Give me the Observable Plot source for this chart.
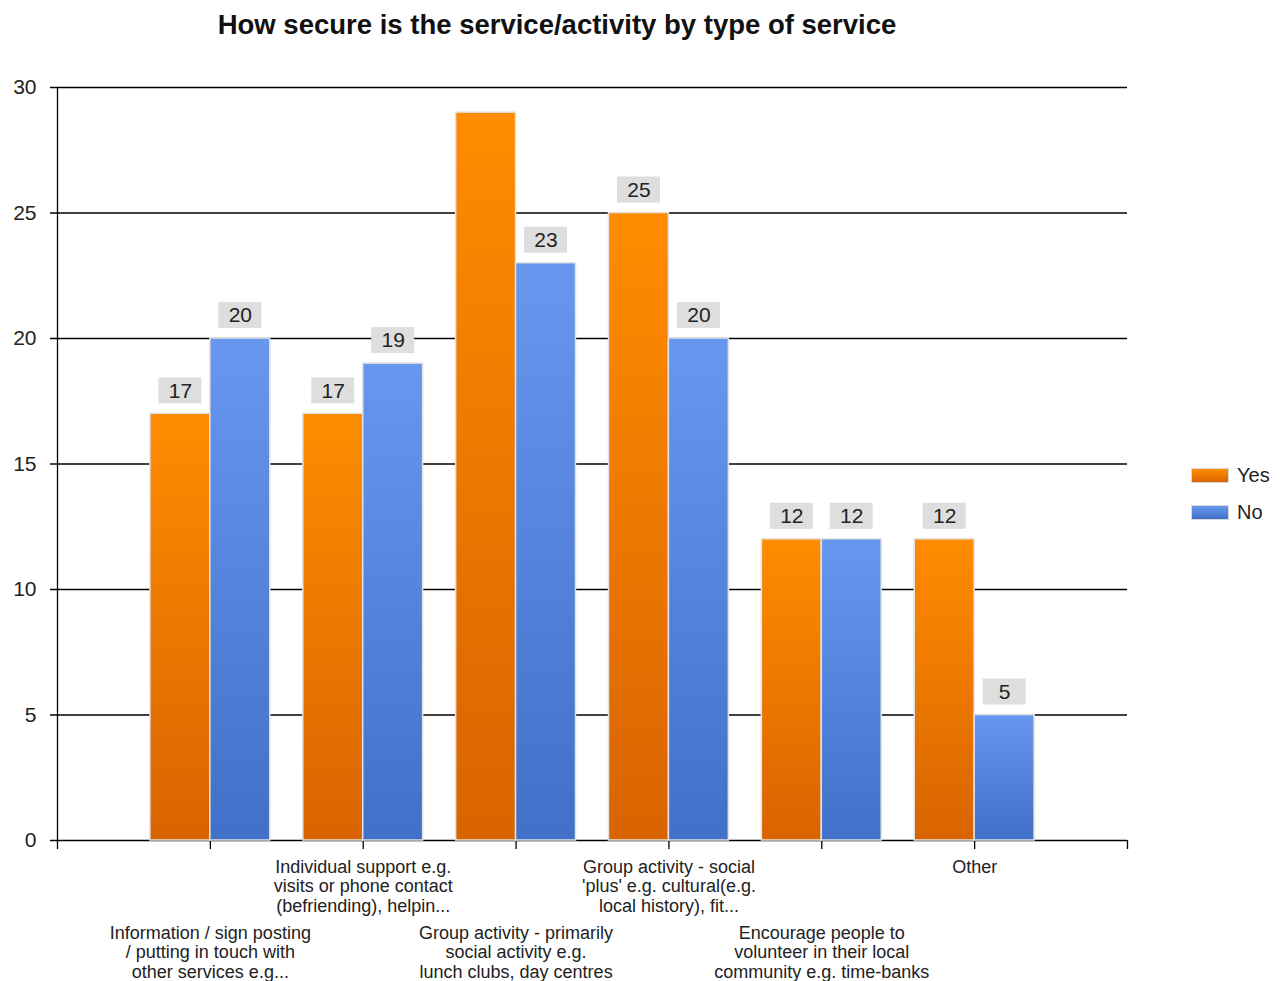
<!DOCTYPE html>
<html>
<head>
<meta charset="utf-8">
<script src="https://cdn.jsdelivr.net/npm/d3@7"></script>
<script src="https://cdn.jsdelivr.net/npm/@observablehq/plot@0.6"></script>
<style>
  body { margin: 0; background: #fff; font-family: "Liberation Sans", Arial, sans-serif; }
  #wrap { position: relative; width: 1282px; height: 981px; }
  #title { position: absolute; left: 0; top: 0; width: 1114px; height: 50px; text-align: center;
           font: bold 27.5px "Liberation Sans", Arial, sans-serif; line-height: 50px; color: #111; }
  #chart { position: absolute; left: 0; top: 50px; }
  .legend { position: absolute; left: 1191px; top: 0; font-size: 20px; color: #222; }
  .legend .item { position: absolute; left: 0; white-space: nowrap; height: 18px; }
  .legend .sw { position: absolute; left: 0; top: 1px; width: 36px; height: 13px; border: 1px solid #d8d8d8; }
  .legend .lab { position: absolute; left: 46px; top: -3px; line-height: 22px; }
</style>
</head>
<body>
<div id="wrap">
  <div id="title">How secure is the service/activity by type of service</div>
  <div id="chart"></div>
  <div class="legend" id="legend"></div>
</div>
<script>
const categories = [
  "Information / sign posting\n/ putting in touch with\nother services e.g...",
  "Individual support e.g.\nvisits or phone contact\n(befriending), helpin...",
  "Group activity - primarily\nsocial activity e.g.\nlunch clubs, day centres",
  "Group activity - social\n'plus' e.g. cultural(e.g.\nlocal history), fit...",
  "Encourage people to\nvolunteer in their local\ncommunity e.g. time-banks",
  "Other"
];
const yesValues = [17, 17, 29, 25, 12, 12];
const noValues = [20, 19, 23, 20, 12, 5];
const seriesNames = ["Yes", "No"];
const yTicks = [0, 5, 10, 15, 20, 25, 30];
const xTicks = [0, 1, 2, 3, 4, 5, 6, 7];
const yMax = 30;

const gradients = {
  Yes: ["#ff8c00", "#d96300"],
  No: ["#6797ee", "#4170c8"]
};

const rows = categories.flatMap((c, i) => [
  {cat: c, idx: i + 1, series: "Yes", value: yesValues[i]},
  {cat: c, idx: i + 1, series: "No", value: noValues[i]}
]);
const cats = categories.map((c, i) => ({cat: c, idx: i + 1}));
// value labels that would not fit inside the plot area are hidden, as in the original
const labelled = rows.filter(d => d.value <= yMax - 2);

const barW = 0.392;
const x1 = d => d.series === "Yes" ? d.idx - barW : d.idx;
const x2 = d => d.series === "Yes" ? d.idx : d.idx + barW;
const xc = d => (x1(d) + x2(d)) / 2;

function defs() {
  const g = d3.create("svg:defs");
  for (const s of seriesNames) {
    const lg = g.append("linearGradient").attr("id", "grad" + s)
      .attr("x1", 0).attr("y1", 0).attr("x2", 0).attr("y2", 1);
    lg.append("stop").attr("offset", "0%").attr("stop-color", gradients[s][0]);
    lg.append("stop").attr("offset", "100%").attr("stop-color", gradients[s][1]);
  }
  return g.node();
}

const chart = Plot.plot({
  width: 1282,
  height: 931,
  marginTop: 37,
  marginBottom: 141,
  marginLeft: 57,
  marginRight: 155,
  x: {type: "linear", domain: [0, 7], axis: null},
  y: {domain: [0, yMax], axis: null},
  style: {fontFamily: "'Liberation Sans', Arial, sans-serif", fontSize: "18px", background: "white", color: "#222"},
  marks: [
    defs,
    Plot.ruleY(yTicks, {x1: 0, x2: 7, insetLeft: -7, stroke: "#000", strokeWidth: 1.3}),
    Plot.ruleX([0], {y1: 0, y2: yMax, stroke: "#000", strokeWidth: 1.3}),
    Plot.ruleX(xTicks, {y1: 0, y2: 0, insetBottom: -9, stroke: "#000", strokeWidth: 1.3}),
    Plot.text(yTicks, {x: 0, y: d => d, text: d => String(d), textAnchor: "end", dx: -21, fontSize: 21, fill: "#222"}),
    Plot.rect(rows.filter(d => d.series === "Yes"), {x1, x2, y1: 0, y2: "value", fill: "url(#gradYes)", stroke: "#e2e2e2", strokeWidth: 1.5}),
    Plot.rect(rows.filter(d => d.series === "No"), {x1, x2, y1: 0, y2: "value", fill: "url(#gradNo)", stroke: "#e2e2e2", strokeWidth: 1.5}),
    Plot.rect(labelled, {x1: xc, x2: xc, y1: "value", y2: "value", insetLeft: -21.5, insetRight: -21.5, insetTop: -13, insetBottom: -13, dy: -23, fill: "#dedede"}),
    Plot.text(labelled, {x: xc, y: "value", text: d => String(d.value), dy: -23, fontSize: 21, fill: "#222"}),
    Plot.text(cats.filter(d => d.idx % 2 === 0), {x: "idx", text: "cat", frameAnchor: "bottom", lineAnchor: "top", dy: 18, fontSize: 18, lineHeight: 1.1, fill: "#222"}),
    Plot.text(cats.filter(d => d.idx % 2 === 1), {x: "idx", text: "cat", frameAnchor: "bottom", lineAnchor: "top", dy: 84, fontSize: 18, lineHeight: 1.1, fill: "#222"})
  ]
});
document.getElementById("chart").appendChild(chart);

const legend = document.getElementById("legend");
seriesNames.forEach((s, i) => {
  const item = document.createElement("div");
  item.className = "item";
  item.style.top = (467 + i * 37) + "px";
  item.innerHTML = `<div class="sw" style="background:linear-gradient(${gradients[s][0]}, ${gradients[s][1]})"></div><div class="lab">${s}</div>`;
  legend.appendChild(item);
});
</script>
</body>
</html>
